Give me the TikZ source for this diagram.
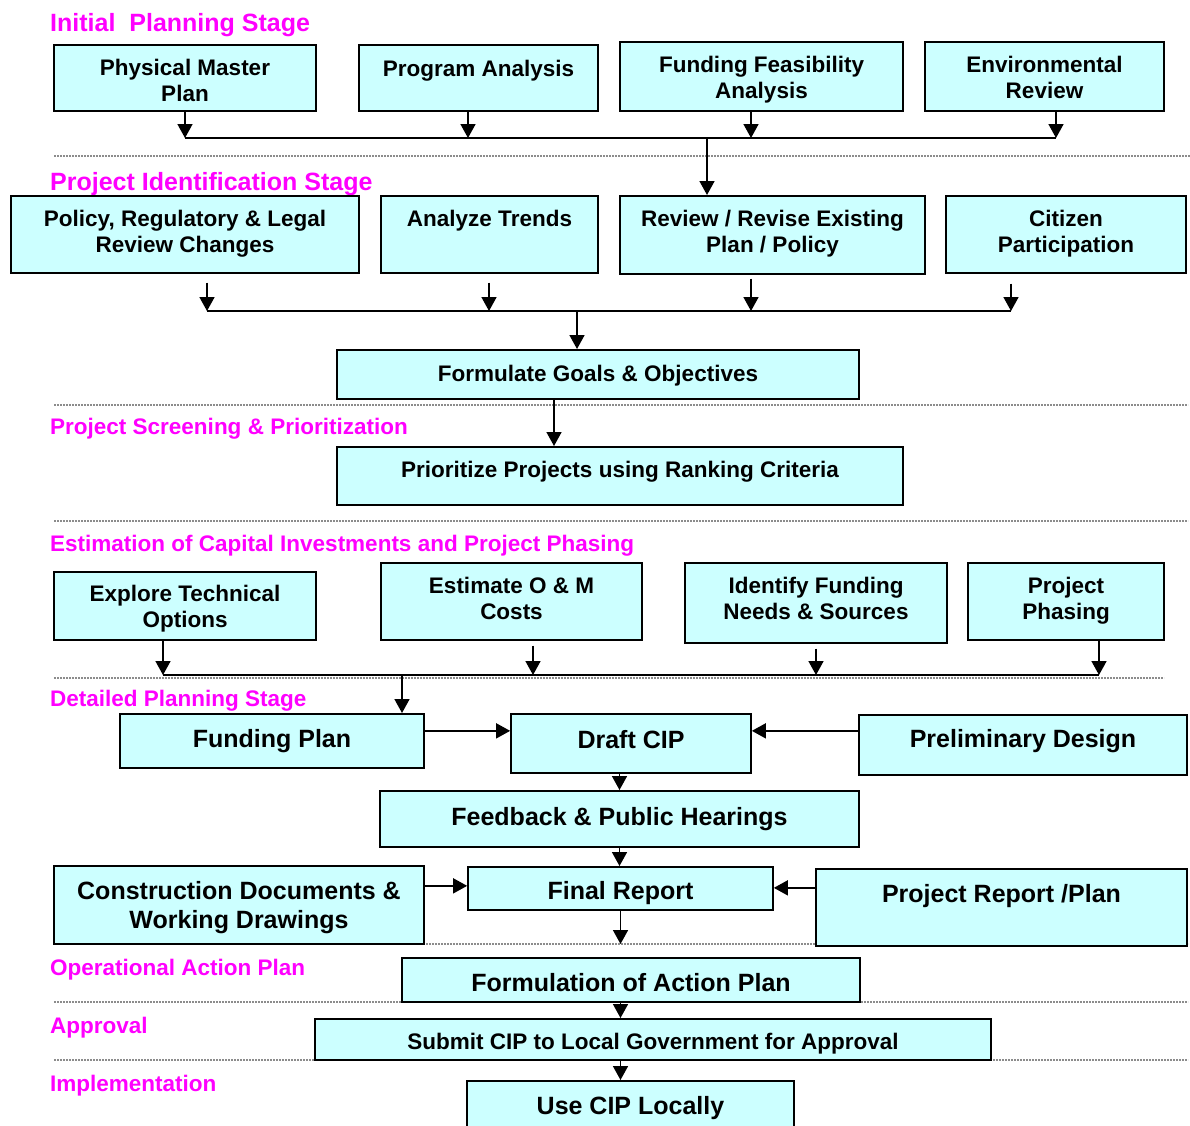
\documentclass[tikz,border=0pt]{standalone}
\usepackage{fontspec}
\setmainfont{Liberation Sans}
\usetikzlibrary{arrows.meta}
\definecolor{boxcyan}{HTML}{CCFFFF}
\definecolor{stagepink}{HTML}{FF00FF}
\begin{document}
\begin{tikzpicture}[x=1pt,y=-1pt,
 box/.style={draw=black,line width=1.7pt,fill=boxcyan,align=center,inner xsep=2pt,inner ysep=0pt,font=\fontsize{22.5}{26}\selectfont\bfseries},
 bigbox/.style={box,font=\fontsize{25}{29}\selectfont\bfseries},
 hd/.style 2 args={text height=#1pt,text depth=#2pt},
 stage/.style={anchor=base west,inner sep=0pt,text=stagepink,font=\fontsize{22.5}{26}\selectfont\bfseries},
 bigstage/.style={stage,font=\fontsize{25}{29}\selectfont\bfseries},
 sep/.style={black!45,line width=1.1pt,dash pattern=on 2pt off 1pt},
 conn/.style={line width=1.6pt},
 arr/.style={conn,-{Triangle[width=15pt,length=14pt]}}]
\useasboundingbox (0,0) rectangle (1190,1125);
\foreach \y/\r in {156/1190,405/1188,521/1188,678/1164,944/1188,1002/1188,1060/1188}
 \draw[sep] (54,\y) -- (\r,\y);

\node[bigstage] (hinit) at (50,31) {Initial~~Planning Stage};
\node[bigstage] (hident) at (50,190) {Project Identification Stage};
\node[stage] (hscreen) at (50,434) {Project Screening \& Prioritization};
\node[stage] (hestim) at (50,551) {Estimation of Capital Investments and Project Phasing};
\node[stage] (hdetail) at (50,706) {Detailed Planning Stage};
\node[stage] (hoper) at (50,975) {Operational Action Plan};
\node[stage] (happr) at (50,1033) {Approval};
\node[stage] (himpl) at (50,1091) {Implementation};

\node[box,minimum width=262pt,hd={57}{9}] (pmp) at (185,44) [anchor=north] {Physical Master\\Plan};
\node[box,minimum width=239pt,hd={32}{34}] (prog) at (478.5,44) [anchor=north] {Program Analysis};
\node[box,minimum width=283pt,hd={57}{12}] (fund) at (761.5,41) [anchor=north] {Funding Feasibility\\Analysis};
\node[box,minimum width=239pt,hd={57}{12}] (env) at (1044.5,41) [anchor=north] {Environmental\\Review};

\node[box,minimum width=348pt,hd={57}{20}] (pol) at (185,195) [anchor=north] {Policy, Regulatory \& Legal\\Review Changes};
\node[box,minimum width=217pt,hd={31}{46}] (trend) at (489.5,195) [anchor=north] {Analyze Trends};
\node[box,minimum width=305pt,hd={57}{21}] (rev) at (772.5,195) [anchor=north] {Review / Revise Existing\\Plan / Policy};
\node[box,minimum width=240pt,hd={57}{20}] (cit) at (1066,195) [anchor=north] {Citizen\\Participation};

\node[box,minimum width=522pt,hd={32}{17}] (goals) at (598,349) [anchor=north] {Formulate Goals \& Objectives};
\node[box,minimum width=566pt,hd={31}{27}] (prio) at (620,446) [anchor=north] {Prioritize Projects using Ranking Criteria};

\node[box,minimum width=262pt,hd={56}{12}] (tech) at (185,571) [anchor=north] {Explore Technical\\Options};
\node[box,minimum width=261pt,hd={57}{20}] (om) at (511.5,562) [anchor=north] {Estimate O \& M\\Costs};
\node[box,minimum width=262pt,hd={57}{23}] (need) at (816,562) [anchor=north] {Identify Funding\\Needs \& Sources};
\node[box,minimum width=196pt,hd={57}{20}] (phase) at (1066,562) [anchor=north] {Project\\Phasing};

\node[bigbox,minimum width=304pt,hd={34}{20}] (fplan) at (272,713) [anchor=north] {Funding Plan};
\node[bigbox,minimum width=240pt,hd={35}{24}] (draft) at (631,713) [anchor=north] {Draft CIP};
\node[bigbox,minimum width=328pt,hd={33}{27}] (prelim) at (1023,714) [anchor=north] {Preliminary Design};
\node[bigbox,minimum width=479pt,hd={35}{21}] (feed) at (619.5,790) [anchor=north] {Feedback \& Public Hearings};
\node[bigbox,minimum width=370pt,hd={63}{15}] (constr) at (239,865) [anchor=north] {Construction Documents \&\\Working Drawings};
\node[bigbox,minimum width=305pt,hd={33}{10}] (final) at (620.5,866) [anchor=north] {Final Report};
\node[bigbox,minimum width=371pt,hd={34}{43}] (prep) at (1001.5,868) [anchor=north] {Project Report /Plan};
\node[bigbox,minimum width=458pt,hd={34}{10}] (formu) at (631,957) [anchor=north] {Formulation of Action Plan};
\node[box,minimum width=676pt,hd={31}{10}] (sub) at (653,1018) [anchor=north] {Submit CIP to Local Government for Approval};
\node[bigbox,minimum width=327pt,hd={34}{16}] (use) at (630.5,1080) [anchor=north] {Use CIP Locally};

\coordinate (j1a) at (185,138);
\coordinate (j1b) at (468,138);
\coordinate (j1c) at (751,138);
\coordinate (j1d) at (1056,138);
\coordinate (j1x) at (707,138);
\draw[conn] (j1a) -- (j1d);
\draw[arr] (pmp.south) -- (j1a);
\draw[arr] (j1b |- prog.south) -- (j1b);
\draw[arr] (j1c |- fund.south) -- (j1c);
\draw[arr] (j1d |- env.south) -- (j1d);
\draw[arr] (j1x) -- (j1x |- rev.north);

\coordinate (j2a) at (207,311);
\coordinate (j2b) at (489,311);
\coordinate (j2c) at (751,311);
\coordinate (j2d) at (1011,311);
\coordinate (j2x) at (577,311);
\draw[conn] (j2a) -- (j2d);
\draw[arr] ([yshift=-9pt]j2a |- pol.south) -- (j2a);
\draw[arr] ([yshift=-9pt]j2b |- trend.south) -- (j2b);
\draw[arr] ([yshift=-4pt]j2c |- rev.south) -- (j2c);
\draw[arr] ([yshift=-10pt]j2d |- cit.south) -- (j2d);
\draw[arr] (j2x) -- (j2x |- goals.north);

\draw[arr] ([xshift=-44pt]goals.south) -- ([xshift=-66pt]prio.north);

\coordinate (j3a) at (163,675);
\coordinate (j3b) at (533,675);
\coordinate (j3c) at (816,675);
\coordinate (j3d) at (1099,675);
\coordinate (j3x) at (402,675);
\draw[conn] (j3a) -- (j3d);
\draw[arr] (j3a |- tech.south) -- (j3a);
\draw[arr] ([yshift=-5pt]j3b |- om.south) -- (j3b);
\draw[arr] ([yshift=-5pt]j3c |- need.south) -- (j3c);
\draw[arr] (j3d |- phase.south) -- (j3d);
\draw[arr] (j3x) -- (j3x |- fplan.north);

\draw[arr] ([yshift=10pt]fplan.east) -- ([yshift=12.5pt]draft.west);
\draw[arr] ([yshift=14pt]prelim.west) -- ([yshift=12.5pt]draft.east);
\draw[arr] (draft.south -| feed.north) -- (feed.north);
\draw[arr] (feed.south) -- (feed.south |- final.north);
\draw[arr] ([yshift=19pt]constr.east) -- ([yshift=19pt]constr.east -| final.west);
\draw[arr] ([yshift=19.5pt]prep.west) -- ([yshift=19.5pt]prep.west -| final.east);
\draw[arr] (final.south) -- ([yshift=13pt]final.south |- formu.north);
\draw[arr] (formu.south -| final.south) -- (sub.north -| final.south);
\draw[arr] (sub.south -| final.south) -- (use.north -| final.south);
\end{tikzpicture}
\end{document}
